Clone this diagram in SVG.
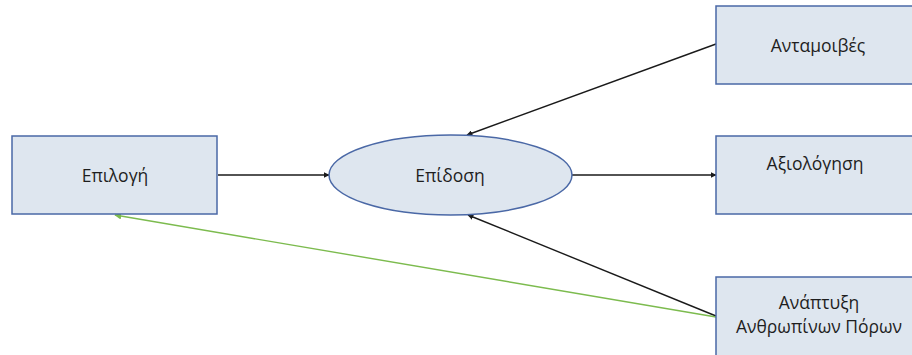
<svg xmlns="http://www.w3.org/2000/svg" width="912" height="355" viewBox="0 0 912 355">
  <style>
    .box { fill: #dee6ef; stroke: #4a68a6; stroke-width: 1.5; }
    .lbl { font-family: "Open Sans", "Noto Sans", "DejaVu Sans", sans-serif; font-size: 17.5px; fill: #1e1e1e; text-anchor: middle; }
    .edge { fill: none; stroke: #1a1a1a; stroke-width: 1.4; }
    .edge-green { fill: none; stroke: #7cbb4e; stroke-width: 1.4; }
  </style>
  <defs>
    <marker id="arrow" viewBox="0 0 10 10" refX="9" refY="5" markerWidth="6" markerHeight="6" markerUnits="userSpaceOnUse" orient="auto">
      <path d="M0,0 L10,5 L0,10 z" fill="#1a1a1a"/>
    </marker>
    <marker id="arrow-green" viewBox="0 0 10 10" refX="9" refY="5" markerWidth="7" markerHeight="7" markerUnits="userSpaceOnUse" orient="auto">
      <path d="M0,0 L10,5 L0,10 z" fill="#7cbb4e"/>
    </marker>
  </defs>

  <rect width="912" height="355" fill="#ffffff"/>

  <g id="connectors">
    <line class="edge" x1="218" y1="175" x2="329" y2="175" marker-end="url(#arrow)"/>
    <line class="edge" x1="716" y1="44" x2="467" y2="135" marker-end="url(#arrow)"/>
    <line class="edge" x1="572" y1="175" x2="716" y2="175" marker-end="url(#arrow)"/>
    <line class="edge" x1="716" y1="316" x2="468" y2="215" marker-end="url(#arrow)"/>
    <line class="edge-green" x1="716" y1="317" x2="115" y2="215" marker-end="url(#arrow-green)"/>
  </g>

  <g id="epilogi">
    <rect class="box" x="12" y="136" width="205" height="78"/>
    <text class="lbl" x="115" y="182">Επιλογή</text>
  </g>

  <g id="epidosi">
    <ellipse class="box" cx="450.5" cy="175" rx="121.5" ry="40"/>
    <text class="lbl" x="450" y="182">Επίδοση</text>
  </g>

  <g id="antamoives">
    <rect class="box" x="716" y="6" width="200" height="78"/>
    <text class="lbl" x="818" y="52">Ανταμοιβές</text>
  </g>

  <g id="axiologisi">
    <rect class="box" x="716" y="136" width="200" height="78"/>
    <text class="lbl" x="815" y="170">Αξιολόγηση</text>
  </g>

  <g id="anaptyxi">
    <rect class="box" x="716" y="277" width="200" height="85"/>
    <text class="lbl" x="819" y="309">Ανάπτυξη</text>
    <text class="lbl" x="819" y="333">Ανθρωπίνων Πόρων</text>
  </g>
</svg>
